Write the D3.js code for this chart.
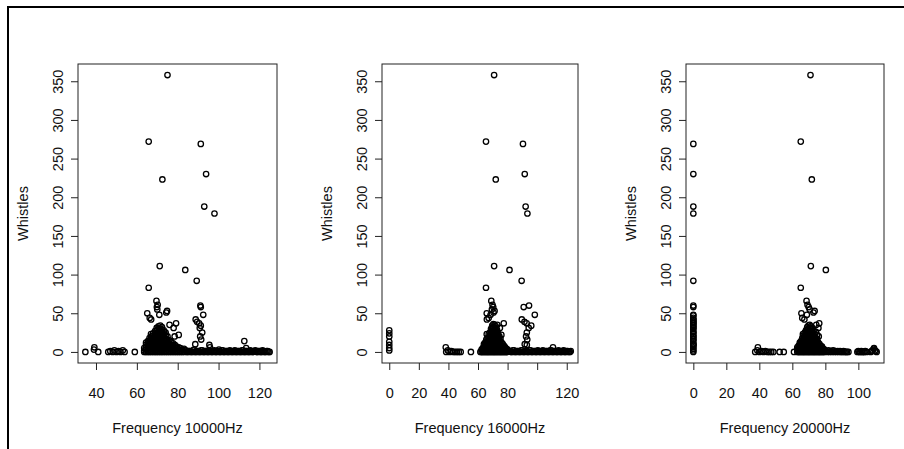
<!DOCTYPE html>
<html>
<head>
<meta charset="utf-8">
<script src="https://cdn.jsdelivr.net/npm/d3@7/dist/d3.min.js"></script>
<style>
  body { margin: 0; background: #fff; }
  text { font-family: "Liberation Sans", Arial, sans-serif; fill: #111; }
</style>
</head>
<body>
<svg id="chart"></svg>
<script>
// whistle counts of the separated observations, shared by all three panels
const whistles = [358, 272, 223, 111, 106, 83, 66, 61, 58, 55, 53, 51, 50, 48, 44, 42, 37, 35, 31, 26, 23, 22, 20,
  269, 230, 188, 179, 92, 60, 58, 48, 42, 39, 37, 34, 31, 25, 20, 16, 10, 9];
const freq10k = [75.0, 65.8, 72.5, 71.2, 83.7, 65.8, 69.6, 70.2, 69.8, 70.0, 74.8, 74.4, 65.1, 71.0, 66.3, 67.0, 79.2, 76.0, 78.0, 73.5, 66.9, 80.5, 78.5,
  91.3, 93.9, 93.0, 98.0, 89.3, 91.1, 91.3, 92.5, 88.8, 89.5, 90.5, 91.3, 90.8, 92.0, 91.0, 91.5, 88.6, 95.5];
const freq16k = [70.9, 65.4, 72.0, 70.9, 81.3, 65.4, 69.0, 69.8, 70.3, 69.4, 71.2, 70.5, 65.9, 68.5, 67.2, 66.0, 77.4, 73.0, 74.8, 71.5, 65.9, 75.8, 74.5,
  90.4, 91.6, 92.2, 93.4, 89.5, 94.5, 90.9, 98.4, 89.6, 91.4, 92.9, 96.0, 94.3, 93.0, 92.5, 93.3, 91.6, 93.0];
const freq20k = [71.0, 65.1, 71.8, 71.2, 80.3, 65.1, 68.6, 69.2, 69.9, 70.5, 73.5, 72.8, 65.5, 68.8, 66.0, 67.3, 76.3, 74.5, 75.8, 74.3, 66.4, 75.0, 76.0,
  0, 0, 0, 0, 0, 0, 0, 0, 0, 0, 0, 0, 0, 0, 0, 0, 0, 0];

// other low points per panel: [frequency, whistles]
const low10k = [[34.8, 0], [39.2, 6], [39.0, 3], [41.1, 0], [46.0, 0], [47.0, 1], [48.2, 0], [49.0, 2], [50.1, 0], [51.0, 1],
  [52.0, 0], [53.1, 2], [54.0, 0], [59.0, 0], [112.6, 14], [113.5, 5], [100.2, 3], [95.8, 6]];
const low16k = [[0, 28], [0, 24], [0, 20], [0, 13], [0, 9], [0, 5], [0, 2], [38.2, 6], [38.5, 0], [39.6, 2], [40.8, 0],
  [42.0, 1], [43.2, 0], [44.5, 0], [45.8, 0], [47.0, 0], [48.3, 0], [55.2, 0], [61.6, 0], [110.7, 6]];
const low20k = [[0, 0], [0, 2], [0, 4], [0, 6], [0, 8], [0, 11], [0, 14], [0, 17], [0, 20], [0, 23], [0, 26], [0, 29],
  [0, 32], [0, 35], [0, 38], [0, 41], [0, 44], [0, 47], [39.1, 6], [37.5, 0], [38.8, 2], [40.0, 0], [41.2, 1], [42.4, 0],
  [43.6, 1], [44.8, 0], [46.0, 0], [47.2, 0], [48.5, 0], [52.3, 0], [54.8, 0], [61.0, 0]];

// dense mass around the peak: [frequency, [whistles...]]
const mass10k = [
  [63.6, [0, 2, 5]], [64.5, [0, 3, 6, 9, 12]], [65.4, [0, 2, 5, 8, 11, 14]], [66.2, [0, 3, 6, 9, 12, 15, 18]],
  [67.1, [0, 2, 5, 8, 11, 14, 17, 20]], [68.0, [0, 3, 6, 9, 12, 15, 18, 21, 24]],
  [68.9, [0, 2, 5, 8, 11, 14, 17, 20, 23, 27]], [69.7, [0, 3, 6, 9, 12, 15, 18, 21, 24, 28, 31]],
  [70.6, [0, 2, 5, 8, 11, 14, 17, 20, 23, 26, 30, 33]], [71.5, [0, 3, 6, 9, 12, 15, 18, 21, 24, 27, 30, 34]],
  [72.3, [0, 2, 5, 8, 11, 14, 17, 20, 23, 26, 29, 32]], [73.2, [0, 3, 6, 9, 12, 15, 18, 21, 24, 28]],
  [74.1, [0, 2, 5, 8, 11, 14, 17, 21, 25]], [75.0, [0, 3, 6, 9, 12, 16, 20]], [75.9, [0, 2, 5, 8, 11, 15]],
  [76.8, [0, 3, 6, 9, 13]], [77.7, [0, 2, 5, 8, 11]], [78.6, [0, 3, 6, 9]], [79.5, [0, 2, 5, 7]],
  [80.4, [0, 3, 6]], [81.3, [0, 2, 5]], [82.2, [0, 3]], [83.1, [0, 2, 4]]
];
const mass16k = [
  [62.4, [0, 3]], [63.2, [0, 2, 5]], [64.0, [0, 3, 6, 10]], [64.8, [0, 2, 5, 8, 12]], [65.6, [0, 3, 6, 9, 12, 16]],
  [66.4, [0, 2, 5, 8, 11, 14, 18]], [67.2, [0, 3, 6, 9, 12, 15, 19, 23]], [68.0, [0, 2, 5, 8, 11, 14, 17, 21, 25]],
  [68.8, [0, 3, 6, 9, 12, 15, 18, 22, 26, 30]], [69.6, [0, 2, 5, 8, 11, 14, 17, 20, 23, 27, 31, 34]],
  [70.4, [0, 3, 6, 9, 12, 15, 18, 21, 24, 28, 32, 36]], [71.2, [0, 2, 5, 8, 11, 14, 17, 20, 23, 27, 31, 35]],
  [72.0, [0, 3, 6, 9, 12, 15, 18, 21, 25, 29, 33]], [72.8, [0, 2, 5, 8, 11, 14, 17, 21, 25, 29]],
  [73.6, [0, 3, 6, 9, 12, 16, 20, 24]], [74.4, [0, 2, 5, 8, 11, 14, 18]], [75.2, [0, 3, 6, 9, 13, 17]],
  [76.0, [0, 2, 5, 8, 12]], [76.8, [0, 3, 6, 10]], [77.6, [0, 2, 5, 8]], [78.4, [0, 3, 6]], [79.2, [0, 2, 4]], [80.0, [0, 3]]
];
const mass20k = [
  [63.0, [0, 3, 6]], [63.75, [0, 2, 5, 8]], [64.5, [0, 3, 6, 9, 12]], [65.25, [0, 2, 5, 8, 11, 14]],
  [66.0, [0, 3, 6, 9, 12, 15, 18]], [66.75, [0, 2, 5, 8, 11, 14, 17, 21]], [67.5, [0, 3, 6, 9, 12, 15, 18, 21, 25]],
  [68.25, [0, 2, 5, 8, 11, 14, 17, 20, 24, 28]], [69.0, [0, 3, 6, 9, 12, 15, 18, 21, 24, 28, 32]],
  [69.75, [0, 2, 5, 8, 11, 14, 17, 20, 23, 26, 30, 34]], [70.5, [0, 3, 6, 9, 12, 15, 18, 21, 24, 27, 31, 35]],
  [71.25, [0, 2, 5, 8, 11, 14, 17, 20, 23, 26, 30, 33]], [72.0, [0, 3, 6, 9, 12, 15, 18, 21, 24, 27, 31]],
  [72.75, [0, 2, 5, 8, 11, 14, 17, 20, 24, 27]], [73.5, [0, 3, 6, 9, 12, 15, 19, 23]],
  [74.25, [0, 2, 5, 8, 11, 14, 18]], [75.0, [0, 3, 6, 9, 13, 17]], [75.75, [0, 2, 5, 8, 12]],
  [76.5, [0, 3, 6, 10]], [77.25, [0, 2, 5, 8]], [78.0, [0, 3, 7]], [78.75, [0, 2, 4]], [79.5, [0, 3]]
];

// near-zero band to the right of the peak: [frequency, whistles]
const band10k = [[84, 2], [84.5, 0], [85, 0], [85.5, 1], [86, 1], [86.5, 0], [87, 0], [87.5, 2], [88, 3], [88.5, 0],
  [89, 0], [89.5, 1], [90, 1], [90.5, 0], [91, 0], [91.5, 2], [92, 2], [92.5, 0], [93, 0], [93.5, 1], [94, 1], [94.5, 0],
  [95, 0], [95.5, 2], [96, 1], [96.5, 0], [97, 0], [97.5, 1], [98, 2], [98.5, 0], [99, 0], [99.5, 1], [100, 1], [100.5, 0],
  [101, 0], [101.5, 2], [102, 2], [102.5, 0], [103, 0], [103.5, 1], [104, 1], [104.5, 0], [105, 0], [105.5, 2], [106, 1],
  [106.5, 0], [107, 0], [107.5, 1], [108, 2], [108.5, 0], [109, 0], [109.5, 1], [110, 1], [110.5, 0], [111, 0], [111.5, 2],
  [112, 2], [112.5, 0], [113, 0], [113.5, 1], [114, 1], [114.5, 0], [115, 0], [115.5, 2], [116, 1], [116.5, 0], [117, 0],
  [117.5, 1], [118, 2], [118.5, 0], [119, 0], [119.5, 1], [120, 1], [120.5, 0], [121, 0], [121.5, 2], [122, 1], [122.5, 0],
  [123, 0], [123.5, 1], [124, 1], [124.5, 0], [125, 0]];
const band16k = [[81.5, 1], [82.2, 0], [82.9, 0], [83.6, 2], [84.3, 2], [85.0, 0], [85.7, 0], [86.4, 1], [87.1, 1], [87.8, 0],
  [88.5, 0], [89.2, 2], [89.9, 2], [90.6, 0], [91.3, 0], [92.0, 1], [92.7, 1], [93.4, 0], [94.1, 0], [94.8, 2], [95.5, 2],
  [96.2, 0], [96.9, 0], [97.6, 1], [98.3, 1], [99.0, 0], [99.7, 0], [100.4, 2], [101.1, 1], [101.8, 0], [102.5, 0], [103.2, 1],
  [103.9, 2], [104.6, 0], [105.3, 0], [106.0, 1], [106.7, 1], [107.4, 0], [108.1, 0], [108.8, 2], [109.5, 2], [110.2, 0],
  [110.9, 0], [111.6, 1], [112.3, 1], [113.0, 0], [113.7, 0], [114.4, 2], [115.1, 1], [115.8, 0], [116.5, 0], [117.2, 1],
  [117.9, 2], [118.6, 0], [119.3, 0], [120.0, 1], [120.7, 1], [121.4, 0], [122.1, 0], [122.7, 1]];
const band20k = [[80.5, 1], [81.2, 0], [81.9, 2], [82.6, 0], [83.3, 1], [84.0, 0], [84.7, 2], [85.4, 0], [86.1, 1], [86.8, 0],
  [87.5, 1], [88.2, 0], [88.9, 1], [89.6, 0], [90.3, 0], [91.0, 1], [91.7, 0], [92.4, 0], [93.1, 0], [94.0, 0],
  [99.4, 0], [100.0, 1], [100.6, 0], [101.2, 0], [101.8, 1], [102.4, 0], [103.0, 0], [103.6, 0], [104.2, 1], [105.1, 0],
  [107.5, 0], [108.1, 1], [108.7, 2], [109.3, 4], [109.5, 5], [110.0, 2], [110.5, 1], [111.1, 0]];

const yTicks = [0, 50, 100, 150, 200, 250, 300, 350];
const xTicks10k = [40, 60, 80, 100, 120];
const xTicks16k = [0, 20, 40, 60, 80, 100, 120];
const xTicks20k = [0, 20, 40, 60, 80, 100];
const xLabels10k = ['40', '60', '80', '100', '120'];
const xLabels16k = ['0', '20', '40', '60', '80', '', '120'];   // 100 is dropped, as in the original
const xLabels20k = ['0', '20', '40', '60', '80', '100'];

const width = 904, height = 449;
const boxTop = 64, boxBottom = 363;
const font = 14.5;

const svg = d3.select('#chart')
  .attr('width', width)
  .attr('height', height);

// outer frame (runs off the right and bottom edges)
svg.append('rect')
  .attr('x', 8).attr('y', 7)
  .attr('width', 1000).attr('height', 1000)
  .attr('fill', 'none').attr('stroke', '#000').attr('stroke-width', 2);

const panels = [
  { title: 'Frequency 10000Hz', left: 78, w: 199, freq: freq10k, low: low10k, mass: mass10k, band: band10k, ticks: xTicks10k, labels: xLabels10k },
  { title: 'Frequency 16000Hz', left: 382, w: 196, freq: freq16k, low: low16k, mass: mass16k, band: band16k, ticks: xTicks16k, labels: xLabels16k },
  { title: 'Frequency 20000Hz', left: 686, w: 198, freq: freq20k, low: low20k, mass: mass20k, band: band20k, ticks: xTicks20k, labels: xLabels20k }
];

// R-style range: data extent plus 4% each side
const pad = ext => {
  const r = ext[1] - ext[0];
  return [ext[0] - 0.04 * r, ext[1] + 0.04 * r];
};

panels.forEach(p => {
  const pts = whistles.map((w, i) => [p.freq[i], w])
    .concat(p.low)
    .concat(p.mass.flatMap(([f, ws]) => ws.map(w => [f, w])))
    .concat(p.band);

  const x = d3.scaleLinear()
    .domain(pad(d3.extent(pts, d => d[0])))
    .range([p.left, p.left + p.w]);
  const y = d3.scaleLinear()
    .domain(pad(d3.extent(pts, d => d[1])))
    .range([boxBottom, boxTop]);

  const g = svg.append('g');

  g.append('g')
    .selectAll('circle')
    .data(pts)
    .join('circle')
    .attr('cx', d => x(d[0]))
    .attr('cy', d => y(d[1]))
    .attr('r', 2.7)
    .attr('fill', 'none')
    .attr('stroke', '#000')
    .attr('stroke-width', 1.3);

  g.append('rect')
    .attr('x', p.left).attr('y', boxTop)
    .attr('width', p.w).attr('height', boxBottom - boxTop)
    .attr('fill', 'none').attr('stroke', '#222').attr('stroke-width', 1);

  const xAxis = g.append('g')
    .attr('transform', `translate(0,${boxBottom})`)
    .call(d3.axisBottom(x).tickValues(p.ticks).tickSize(7).tickPadding(18)
      .tickFormat((d, i) => p.labels[i]));
  xAxis.select('.domain').remove();
  xAxis.attr('font-size', font).attr('font-family', null);
  xAxis.selectAll('line').attr('stroke', '#222');

  const yAxis = g.append('g')
    .attr('transform', `translate(${p.left},0)`)
    .call(d3.axisLeft(y).tickValues(yTicks).tickSize(7));
  yAxis.select('.domain').remove();
  yAxis.attr('font-size', font).attr('font-family', null);
  yAxis.selectAll('line').attr('stroke', '#222');
  yAxis.selectAll('text')
    .attr('x', null).attr('dy', null)
    .attr('text-anchor', 'middle')
    .attr('transform', 'translate(-15,0) rotate(-90)');

  g.append('text')
    .attr('x', p.left + p.w / 2)
    .attr('y', 432.5)
    .attr('text-anchor', 'middle')
    .attr('font-size', font)
    .text(p.title);

  g.append('text')
    .attr('transform', `translate(${p.left - 50},${(boxTop + boxBottom) / 2}) rotate(-90)`)
    .attr('text-anchor', 'middle')
    .attr('font-size', font)
    .text('Whistles');
});
</script>
</body>
</html>
